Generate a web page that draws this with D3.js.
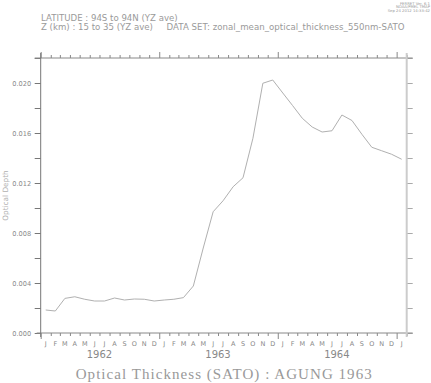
<!DOCTYPE html>
<html>
<head>
<meta charset="utf-8">
<script src="https://cdn.jsdelivr.net/npm/d3@7"></script>
<style>
  body { margin: 0; background: #fff; }
  svg { display: block; }
  .hdr { font-family: "DejaVu Sans", sans-serif; fill: #9a9a9a; }
</style>
</head>
<body>
<svg id="chart" width="431" height="383"></svg>
<script>
// monthly optical depth, Jan 1962 .. Jan 1965 (mid-month)
const years = [1962, 1963, 1964];
const monthLetters = ["J", "F", "M", "A", "M", "J", "J", "A", "S", "O", "N", "D"];
const depth = [
  0.00184, 0.00176, 0.00277, 0.00290, 0.00270, 0.00256, 0.00256, 0.00280, 0.00264, 0.00272, 0.00270, 0.00256, // 1962
  0.00264, 0.00270, 0.00283, 0.00376, 0.00680, 0.00970, 0.01058, 0.01170, 0.01242, 0.01558, 0.01998, 0.02024, // 1963
  0.01920, 0.01820, 0.01718, 0.01648, 0.01608, 0.01618, 0.01744, 0.01700, 0.01590, 0.01486, 0.01458, 0.01430, // 1964
  0.01390 // Jan 1965
];
const yTicks = [0.000, 0.004, 0.008, 0.012, 0.016, 0.020];

const svg = d3.select("#chart");
const plotL = 40.7, plotR = 406.7, plotT = 58, plotB = 333;

const x = d3.scaleTime()
  .domain([new Date(1962, 0, 1), new Date(1965, 1, 1)])
  .range([plotL, plotR]);
const y = d3.scaleLinear()
  .domain([0, 0.022])
  .range([plotB, plotT]);

const midMonth = i => {
  const a = new Date(1962, i, 1), b = new Date(1962, i + 1, 1);
  return new Date((a.getTime() + b.getTime()) / 2);
};
const months = d3.timeMonth.range(new Date(1962, 0, 1), new Date(1965, 1, 2));

// header text
svg.append("text").attr("class", "hdr").attr("x", 41).attr("y", 20.5)
  .attr("font-size", 8.6).text("LATITUDE : 94S to 94N (YZ ave)");
svg.append("text").attr("class", "hdr").attr("x", 41).attr("y", 29.5)
  .attr("font-size", 8.6).text("Z (km) : 15 to 35 (YZ ave)");
svg.append("text").attr("class", "hdr").attr("x", 166.5).attr("y", 29.5)
  .attr("font-size", 8.6).attr("textLength", 238).attr("lengthAdjust", "spacing")
  .text("DATA SET: zonal_mean_optical_thickness_550nm-SATO");
["FERRET Ver. 6.1", "NOAA/PMEL TMAP", "Sep 24 2012 14:33:42"].forEach((t, i) => {
  svg.append("text").attr("class", "hdr").attr("x", 430).attr("y", 4.5 + i * 3.6)
    .attr("text-anchor", "end").attr("font-size", 3.8).text(t);
});

// bottom axis ticks
const tickLen = d => d.getMonth() === 0 ? 6 : 3;
const gb = svg.append("g").attr("transform", `translate(0,${plotB})`)
  .call(d3.axisBottom(x).tickValues(months).tickSizeOuter(0).tickFormat(""));
gb.select(".domain").remove();
gb.selectAll(".tick line").attr("stroke", "#888").attr("y2", d => tickLen(d));

// top axis ticks
const gt = svg.append("g").attr("transform", `translate(0,${plotT})`)
  .call(d3.axisTop(x).tickValues(months).tickSizeOuter(0).tickFormat(""));
gt.select(".domain").remove();
gt.selectAll(".tick line").attr("stroke", "#888").attr("y2", d => -tickLen(d));

// left axis
const gl = svg.append("g").attr("transform", `translate(${plotL},0)`)
  .call(d3.axisLeft(y).ticks(11).tickSize(6).tickSizeOuter(0)
    .tickFormat(d => yTicks.some(t => Math.abs(t - d) < 1e-9) ? d3.format(".3f")(d) : ""));
gl.select(".domain").remove();
gl.selectAll(".tick line").attr("stroke", "#777");
gl.selectAll(".tick text").attr("fill", "#8a8a8a")
  .attr("font-family", "DejaVu Sans, sans-serif").attr("font-size", 6.6).attr("x", -9.5);

// right axis
const gr = svg.append("g").attr("transform", `translate(${plotR},0)`)
  .call(d3.axisRight(y).ticks(11).tickSize(6).tickSizeOuter(0).tickFormat(""));
gr.select(".domain").remove();
gr.selectAll(".tick line").attr("stroke", "#aaa");

// frame lines (slightly overshooting like the original)
svg.append("line").attr("x1", plotL - 6).attr("x2", plotR + 6).attr("y1", plotT).attr("y2", plotT)
  .attr("stroke", "#888");
svg.append("line").attr("x1", plotL - 4).attr("x2", plotR + 6).attr("y1", plotB).attr("y2", plotB)
  .attr("stroke", "#888");
svg.append("line").attr("x1", plotL).attr("x2", plotL).attr("y1", plotT - 5).attr("y2", plotB + 4)
  .attr("stroke", "#777");
svg.append("line").attr("x1", plotR).attr("x2", plotR).attr("y1", plotT - 5).attr("y2", plotB + 4)
  .attr("stroke", "#ccc").attr("stroke-width", 2);

// month letters
svg.append("g").selectAll("text").data(d3.range(37)).join("text")
  .attr("x", i => x(midMonth(i))).attr("y", 345.5)
  .attr("text-anchor", "middle").attr("fill", "#888")
  .attr("font-family", "DejaVu Sans, sans-serif").attr("font-size", 6.5)
  .text(i => monthLetters[i % 12]);

// year labels
svg.append("g").selectAll("text").data(years).join("text")
  .attr("x", d => x(new Date(d, 6, 1))).attr("y", 357.5)
  .attr("text-anchor", "middle").attr("fill", "#888")
  .attr("font-family", "DejaVu Sans, sans-serif").attr("font-size", 10)
  .text(d => d);

// y axis label
svg.append("text")
  .attr("transform", `translate(7.5,${(plotT + plotB) / 2}) rotate(-90)`)
  .attr("text-anchor", "middle").attr("fill", "#b0b0b0")
  .attr("font-family", "DejaVu Sans, sans-serif").attr("font-size", 7.3)
  .text("Optical Depth");

// title
svg.append("text")
  .attr("x", (plotL + plotR) / 2).attr("y", 379)
  .attr("text-anchor", "middle").attr("fill", "#999")
  .attr("font-family", "Liberation Serif, serif").attr("font-size", 15)
  .attr("textLength", 296).attr("lengthAdjust", "spacing")
  .text("Optical Thickness (SATO) : AGUNG 1963");

// data line
const line = d3.line()
  .x((d, i) => x(midMonth(i)))
  .y(d => y(d));
svg.append("path").datum(depth)
  .attr("fill", "none").attr("stroke", "#b0b0b0").attr("stroke-width", 1)
  .attr("d", line);
</script>
</body>
</html>
